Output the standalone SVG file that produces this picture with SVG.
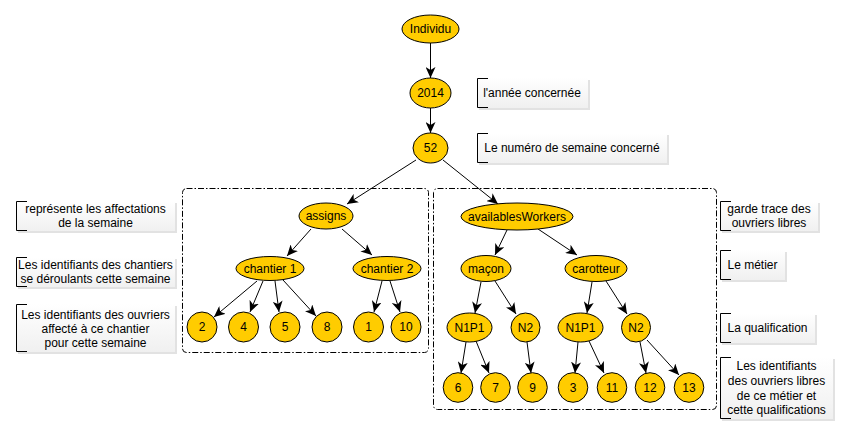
<svg xmlns="http://www.w3.org/2000/svg" width="848" height="435" viewBox="0 0 848 435">
<defs>
<marker id="arr" markerWidth="12" markerHeight="10" refX="11" refY="5" orient="auto" markerUnits="userSpaceOnUse">
<path d="M0,0 L11,5 L0,10 L3,5 Z" fill="#000"/>
</marker>
<linearGradient id="ng" x1="0" y1="0" x2="0" y2="1">
<stop offset="0" stop-color="#ffffff"/>
<stop offset="1" stop-color="#f0f0f0"/>
</linearGradient>
</defs>
<style>
text{font-family:"Liberation Sans",Arial,sans-serif;font-size:12px;fill:#000;text-anchor:middle}
.n{fill:#FFCC00;stroke:#000;stroke-width:1}
.e{stroke:#000;stroke-width:1;fill:none;marker-end:url(#arr)}
.grp{fill:none;stroke:#000;stroke-width:1;stroke-dasharray:6,2,1.5,2}
.sh{fill:#cfcfcf;opacity:0.6}
.bx{fill:url(#ng)}
.br{fill:none;stroke:#000;stroke-width:1}
</style>
<rect width="848" height="435" fill="#fff"/>

<g id="groups">
<rect class="grp" x="182.5" y="188.5" width="246" height="164" rx="4"/>
<rect class="grp" x="433.5" y="188.5" width="283" height="221" rx="4"/>
</g>

<g id="annotations">
<g id="a1"><rect class="sh" x="479" y="80" width="111" height="30"/><rect class="bx" x="477" y="78" width="111" height="30"/><path class="br" d="M488,78.5 H477.5 V107.5 H488"/><text x="532" y="97">l'année concernée</text></g>
<g id="a2"><rect class="sh" x="479" y="135" width="190" height="30"/><rect class="bx" x="477" y="133" width="190" height="30"/><path class="br" d="M488,133.5 H477.5 V162.5 H488"/><text x="572" y="152">Le numéro de semaine concerné</text></g>
<g id="a3"><rect class="sh" x="18" y="203" width="159" height="30"/><rect class="bx" x="16" y="201" width="159" height="30"/><path class="br" d="M27,201.5 H16.5 V230.5 H27"/><text x="95.5" y="213">représente les affectations</text><text x="95.5" y="227">de la semaine</text></g>
<g id="a4"><rect class="sh" x="18" y="259" width="159" height="30"/><rect class="bx" x="16" y="257" width="159" height="30"/><path class="br" d="M27,257.5 H16.5 V286.5 H27"/><text x="95.5" y="269">Les identifiants des chantiers</text><text x="95.5" y="283">se déroulants cette semaine</text></g>
<g id="a5"><rect class="sh" x="18" y="306" width="159" height="48"/><rect class="bx" x="16" y="304" width="159" height="48"/><path class="br" d="M27,304.5 H16.5 V351.5 H27"/><text x="95.5" y="319">Les identifiants des ouvriers</text><text x="95.5" y="333">affecté à ce chantier</text><text x="95.5" y="347">pour cette semaine</text></g>
<g id="a6"><rect class="sh" x="722" y="203" width="98" height="30"/><rect class="bx" x="720" y="201" width="98" height="30"/><path class="br" d="M731,201.5 H720.5 V230.5 H731"/><text x="769" y="213">garde trace des</text><text x="769" y="227">ouvriers libres</text></g>
<g id="a7"><rect class="sh" x="722" y="252" width="65" height="30"/><rect class="bx" x="720" y="250" width="65" height="30"/><path class="br" d="M731,250.5 H720.5 V279.5 H731"/><text x="752.5" y="269">Le métier</text></g>
<g id="a8"><rect class="sh" x="722" y="315" width="95" height="30"/><rect class="bx" x="720" y="313" width="95" height="30"/><path class="br" d="M731,313.5 H720.5 V342.5 H731"/><text x="767.5" y="332">La qualification</text></g>
<g id="a9"><rect class="sh" x="722" y="359" width="113" height="62"/><rect class="bx" x="720" y="357" width="113" height="62"/><path class="br" d="M731,357.5 H720.5 V418.5 H731"/><text x="776.5" y="370">Les identifiants</text><text x="776.5" y="385">des ouvriers libres</text><text x="776.5" y="400">de ce métier et</text><text x="776.5" y="414">cette qualifications</text></g>
</g>

<g id="connectors">
<line class="e" x1="430.5" y1="43" x2="430.5" y2="78"/>
<line class="e" x1="430.5" y1="108" x2="430.5" y2="133"/>
<line class="e" x1="416" y1="160" x2="347" y2="204"/>
<line class="e" x1="443" y1="160" x2="498" y2="204"/>
<line class="e" x1="311" y1="229" x2="287" y2="256"/>
<line class="e" x1="342" y1="229" x2="372" y2="255"/>
<line class="e" x1="257" y1="281" x2="214" y2="317"/>
<line class="e" x1="263" y1="281" x2="250" y2="312"/>
<line class="e" x1="275" y1="281" x2="279" y2="312"/>
<line class="e" x1="283" y1="280" x2="316" y2="316"/>
<line class="e" x1="382" y1="281" x2="374" y2="312"/>
<line class="e" x1="390" y1="281" x2="400" y2="312"/>
<line class="e" x1="507" y1="230" x2="495" y2="255"/>
<line class="e" x1="538" y1="229" x2="577" y2="255"/>
<line class="e" x1="481" y1="282" x2="475" y2="313"/>
<line class="e" x1="495" y1="281" x2="516" y2="314"/>
<line class="e" x1="592" y1="282" x2="587" y2="313"/>
<line class="e" x1="606" y1="281" x2="627" y2="314"/>
<line class="e" x1="466" y1="342" x2="461" y2="373"/>
<line class="e" x1="476" y1="341" x2="489" y2="373"/>
<line class="e" x1="527" y1="342" x2="531" y2="373"/>
<line class="e" x1="578" y1="342" x2="575" y2="373"/>
<line class="e" x1="589" y1="341" x2="604" y2="373"/>
<line class="e" x1="640" y1="342" x2="646" y2="373"/>
<line class="e" x1="647" y1="340" x2="679" y2="375"/>
</g>

<g id="n-individu"><ellipse class="n" cx="430.5" cy="29" rx="28.5" ry="14"/><text x="430.5" y="33">Individu</text></g>
<g id="n-2014"><ellipse class="n" cx="430.5" cy="93" rx="20.5" ry="15"/><text x="430.5" y="97">2014</text></g>
<g id="n-52"><ellipse class="n" cx="430.5" cy="148" rx="17.5" ry="15"/><text x="430.5" y="152">52</text></g>

<g id="n-assigns"><ellipse class="n" cx="326" cy="216" rx="27" ry="13"/><text x="326" y="220">assigns</text></g>
<g id="n-chantier1"><ellipse class="n" cx="270" cy="268.5" rx="34" ry="12"/><text x="270" y="272.5">chantier 1</text></g>
<g id="n-chantier2"><ellipse class="n" cx="387" cy="268.5" rx="34" ry="12"/><text x="387" y="272.5">chantier 2</text></g>
<g id="n-a2"><circle class="n" cx="202" cy="327" r="15"/><text x="202" y="331">2</text></g>
<g id="n-a4"><circle class="n" cx="243.5" cy="327" r="15"/><text x="243.5" y="331">4</text></g>
<g id="n-a5"><circle class="n" cx="285" cy="327" r="15"/><text x="285" y="331">5</text></g>
<g id="n-a8"><circle class="n" cx="327" cy="327" r="15"/><text x="327" y="331">8</text></g>
<g id="n-a1"><circle class="n" cx="368.5" cy="327" r="15"/><text x="368.5" y="331">1</text></g>
<g id="n-a10"><circle class="n" cx="406" cy="327" r="15"/><text x="406" y="331">10</text></g>

<g id="n-aw"><ellipse class="n" cx="517" cy="216.5" rx="56" ry="13.5"/><text x="517" y="220.5">availablesWorkers</text></g>
<g id="n-macon"><ellipse class="n" cx="486" cy="268.5" rx="25" ry="13"/><text x="486" y="272.5">maçon</text></g>
<g id="n-carotteur"><ellipse class="n" cx="596" cy="268.5" rx="31" ry="13"/><text x="596" y="272.5">carotteur</text></g>
<g id="n-m-n1p1"><ellipse class="n" cx="469.5" cy="327.5" rx="22.5" ry="14.5"/><text x="469.5" y="331.5">N1P1</text></g>
<g id="n-m-n2"><ellipse class="n" cx="525.5" cy="327.5" rx="14.5" ry="14.5"/><text x="525.5" y="331.5">N2</text></g>
<g id="n-c-n1p1"><ellipse class="n" cx="580.5" cy="327.5" rx="22.5" ry="14.5"/><text x="580.5" y="331.5">N1P1</text></g>
<g id="n-c-n2"><ellipse class="n" cx="636" cy="327.5" rx="14.5" ry="14.5"/><text x="636" y="331.5">N2</text></g>
<g id="n-w6"><circle class="n" cx="458" cy="387.5" r="14.8"/><text x="458" y="391.5">6</text></g>
<g id="n-w7"><circle class="n" cx="495.5" cy="387.5" r="14.8"/><text x="495.5" y="391.5">7</text></g>
<g id="n-w9"><circle class="n" cx="532.5" cy="387.5" r="14.8"/><text x="532.5" y="391.5">9</text></g>
<g id="n-w3"><circle class="n" cx="573" cy="387.5" r="14.8"/><text x="573" y="391.5">3</text></g>
<g id="n-w11"><circle class="n" cx="612" cy="387.5" r="14.8"/><text x="612" y="391.5">11</text></g>
<g id="n-w12"><circle class="n" cx="650" cy="387.5" r="14.8"/><text x="650" y="391.5">12</text></g>
<g id="n-w13"><circle class="n" cx="689" cy="387.5" r="14.8"/><text x="689" y="391.5">13</text></g>
</svg>
